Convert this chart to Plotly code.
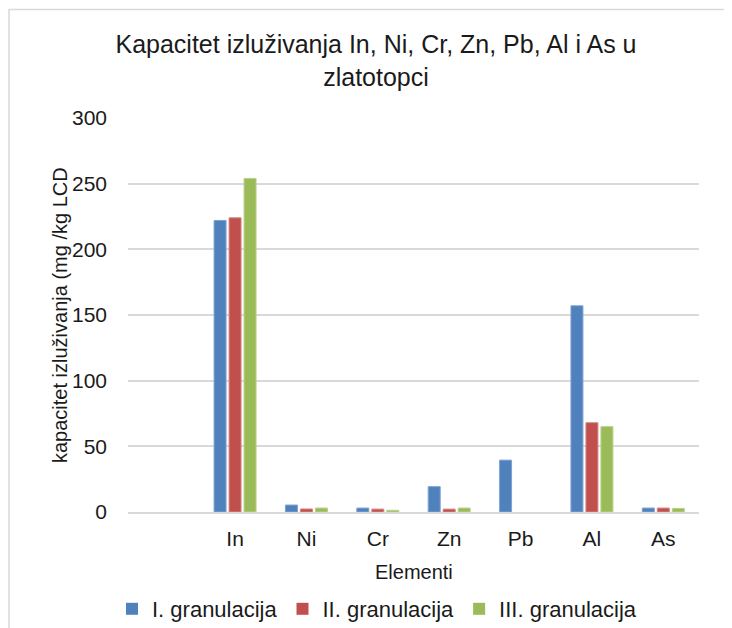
import plotly.graph_objects as go

categories = [" ", "In", "Ni", "Cr", "Zn", "Pb", "Al", "As"]
series_names = ["I. granulacija", "II. granulacija", "III. granulacija"]
vals_I = [None, 222, 5.3, 3.0, 19.3, 39.5, 157, 3.0]
vals_II = [None, 224, 2.3, 2.2, 2.2, 0, 68, 3.0]
vals_III = [None, 254, 3.0, 1.3, 3.0, 0, 65, 2.7]
colors = ["#4F81BD", "#C0504D", "#9BBB59"]
edge_colors = ["#7FA2D0", "#D48582", "#B9D08B"]
y_ticks = [0, 50, 100, 150, 200, 250, 300]

FONT = "Liberation Sans, Arial, sans-serif"
TXT = "#1a1a1a"

# page body adds an 8px offset; the figure is sized/positioned to compensate
W, H = 724, 620
L, R, T, B = 120, 33, 110, 116
PW, PH = W - L - R, H - T - B


def px_x(x):
    return (x - L) / PW


def px_y(y):
    return (H - B - y) / PH


fig = go.Figure()
for name, vals, c, ec in zip(series_names, [vals_I, vals_II, vals_III], colors, edge_colors):
    widths = [0 if (v is None or v == 0) else 1 for v in vals]
    fig.add_trace(go.Bar(x=categories, y=vals, name=name,
                         marker=dict(color=c, line=dict(color=ec, width=widths))))

fig.update_layout(
    width=W, height=H,
    margin=dict(l=L, r=R, t=T, b=B, autoexpand=False),
    paper_bgcolor="white", plot_bgcolor="white",
    barmode="group", bargap=0.37, bargroupgap=0.2,
    font=dict(family=FONT, color=TXT),
    title=dict(text="Kapacitet izluživanja In, Ni, Cr, Zn, Pb, Al i As u<br>zlatotopci",
               x=368 / W, xref="container", xanchor="center",
               y=1 - 45 / H, yanchor="middle", yref="container",
               font=dict(size=25, family=FONT, color=TXT)),
    showlegend=True,
    legend=dict(orientation="h", x=px_x(369), xanchor="center", y=px_y(601), yanchor="middle",
                font=dict(size=22, family=FONT, color=TXT), itemwidth=30,
                traceorder="normal"),
)
fig.update_xaxes(type="category", showgrid=False, showline=True, linecolor="#D9D9D9",
                 linewidth=1.5, ticks="", tickfont=dict(size=21, family=FONT, color=TXT),
                 ticklabelstandoff=7, automargin=False, fixedrange=True)
fig.update_yaxes(range=[0, 300], tickvals=y_ticks, showgrid=True, gridcolor="#D9D9D9",
                 gridwidth=1.5, zeroline=False, showline=False, ticks="",
                 tickfont=dict(size=21, family=FONT, color=TXT), ticklabelstandoff=20,
                 automargin=False)

fig.add_annotation(text="Elementi", xref="paper", yref="paper", x=px_x(406), y=px_y(564),
                   showarrow=False, xanchor="center", yanchor="middle",
                   font=dict(size=20, family=FONT, color=TXT))
fig.add_annotation(text="kapacitet izluživanja (mg /kg LCD", xref="paper", yref="paper",
                   x=px_x(52), y=0.5, textangle=-90, showarrow=False,
                   xanchor="center", yanchor="middle",
                   font=dict(size=20, family=FONT, color=TXT))
fig.add_shape(type="rect", xref="paper", yref="paper",
              x0=px_x(1), x1=px_x(W + 20), y0=px_y(H + 20), y1=px_y(1.5),
              line=dict(color="#D9D9D9", width=1.5), fillcolor="rgba(0,0,0,0)")

fig.write_html("out.html")
